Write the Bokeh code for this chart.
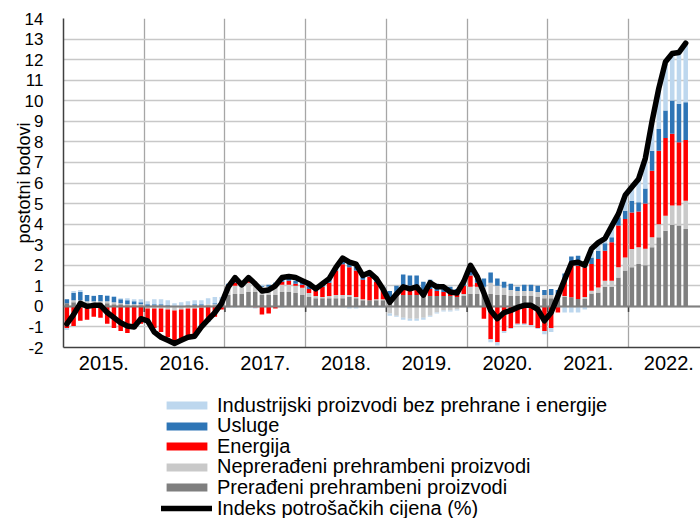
import numpy as np
from bokeh.plotting import figure
from bokeh.layouts import column
from bokeh.models import ColumnDataSource, Range1d, FixedTicker, Legend, LegendItem, Span
from bokeh.embed import file_html
from bokeh.resources import INLINE

# ---------------- data (monthly, Jan 2015 - Sep 2022) ----------------
years = ["2015.", "2016.", "2017.", "2018.", "2019.", "2020.", "2021.", "2022."]

processed = [0.15, 0.2, 0.2, 0.15, 0.15, 0.15, 0.15, 0.1, 0.1, 0.05, 0.05, 0.05,
             0.0, 0.05, 0.05, 0.0, 0.0, 0.0, 0.05, 0.05, 0.05, 0.05, 0.05, 0.1,
             0.55, 0.6, 0.6, 0.7, 0.7, 0.55, 0.55, 0.55, 0.7, 0.7, 0.65, 0.55,
             0.45, 0.4, 0.4, 0.4, 0.4, 0.4, 0.45, 0.4, 0.3, 0.3, 0.3, 0.3,
             0.45, 0.5, 0.55, 0.55, 0.55, 0.55, 0.5, 0.5, 0.5, 0.5, 0.45, 0.5,
             0.6, 0.6, 0.55, 0.6, 0.55, 0.55, 0.5, 0.5, 0.5, 0.5, 0.45, 0.4,
             0.4, 0.5, 0.45, 0.44, 0.36, 0.36, 0.63, 0.68, 0.96, 0.96, 1.41, 1.74,
             1.9, 2.06, 2.0, 2.87, 3.36, 3.68, 3.97, 3.93, 3.76]

unprocessed = [0.0, 0.1, 0.1, 0.1, 0.1, 0.1, 0.1, 0.1, 0.05, 0.05, 0.05, 0.05,
               -0.1, -0.1, -0.1, -0.15, -0.2, -0.15, -0.1, -0.1, -0.05, 0.05, 0.05, 0.05,
               0.35, 0.4, 0.35, 0.45, 0.35, 0.4, 0.4, 0.45, 0.35, 0.35, 0.35, 0.35,
               0.2, 0.1, 0.05, 0.1, 0.15, 0.15, 0.1, 0.05, 0.05, 0.0, 0.05, 0.05,
               -0.35, -0.45, -0.55, -0.6, -0.6, -0.55, -0.45, -0.3, -0.2, -0.2, -0.15, 0.1,
               0.35, 0.35, 0.4, 0.55, 0.45, 0.35, 0.3, 0.25, 0.25, 0.25, 0.25, 0.15,
               0.15, 0.1, 0.05, 0.0, 0.0, 0.1, 0.13, 0.24, 0.29, 0.29, 0.49, 0.64,
               0.89, 0.81, 0.8, 0.49, 0.64, 0.73, 0.93, 0.97, 1.38]

energy = [-1.05, -0.95, -0.7, -0.65, -0.5, -0.55, -0.85, -1.05, -1.2, -1.3, -1.1, -0.85,
          -0.7, -0.95, -1.15, -1.35, -1.45, -1.45, -1.4, -1.3, -0.85, -0.65, -0.5, -0.15,
          0.1, 0.15, 0.0, 0.1, -0.05, -0.4, -0.35, -0.1, 0.15, 0.2, 0.1, 0.15,
          0.2, 0.25, 0.5, 0.65, 1.2, 1.5, 1.35, 1.3, 0.95, 1.15, 0.85, 0.45,
          0.0, 0.15, 0.45, 0.45, 0.45, 0.25, 0.35, 0.25, 0.2, 0.15, 0.1, 0.4,
          0.55, 0.2, -0.6, -1.6, -1.75, -1.2, -1.05, -0.85, -0.85, -0.9, -1.05, -1.2,
          -1.05, -0.3, 0.8, 1.62, 1.62, 1.44, 1.3, 1.38, 1.46, 1.87, 2.03, 1.87,
          1.78, 1.75, 2.2, 3.24, 3.57, 3.78, 3.49, 3.08, 2.95]

services = [0.2, 0.35, 0.4, 0.3, 0.25, 0.3, 0.25, 0.25, 0.2, 0.2, 0.15, 0.1,
            0.1, 0.05, 0.05, 0.05, 0.0, 0.0, 0.0, 0.05, 0.05, -0.1, 0.05, 0.05,
            0.1, 0.15, 0.1, 0.1, 0.05, 0.05, 0.1, 0.15, 0.15, 0.1, 0.15, 0.2,
            0.2, 0.15, 0.15, 0.2, 0.15, 0.2, 0.2, 0.2, 0.2, 0.2, 0.15, 0.15,
            0.3, 0.35, 0.55, 0.5, 0.5, 0.4, 0.45, 0.35, 0.3, 0.3, 0.3, 0.3,
            0.3, 0.35, 0.4, 0.5, 0.35, 0.3, 0.3, 0.2, 0.3, 0.3, 0.3, 0.25,
            0.3, 0.2, 0.3, 0.36, 0.48, 0.24, 0.32, 0.4, 0.36, 0.24, 0.4, 0.4,
            0.57, 0.44, 0.73, 0.97, 1.06, 1.33, 1.62, 1.87, 1.84]

industrial = [-0.1, 0.1, 0.1, 0.0, 0.03, 0.0, 0.05, 0.05, 0.05, 0.1, 0.1, 0.15,
              0.15, 0.25, 0.25, 0.25, 0.15, 0.2, 0.2, 0.2, 0.2, 0.3, 0.3, 0.25,
              -0.05, -0.05, 0.0, -0.05, -0.05, 0.05, 0.0, 0.0, -0.05, 0.0, 0.05, 0.0,
              0.0, -0.05, 0.0, 0.0, 0.0, -0.05, -0.1, -0.1, -0.05, -0.05, -0.05, -0.05,
              -0.1, -0.05, -0.1, -0.1, -0.1, -0.1, -0.05, -0.05, -0.05, -0.05, -0.05, 0.0,
              0.15, 0.0, 0.0, -0.15, -0.15, -0.1, -0.05, -0.05, -0.05, -0.05, -0.05, -0.15,
              -0.2, 0.0, -0.3, -0.3, -0.3, -0.15, 0.35, 0.35, 0.25, 0.45, 0.25, 0.75,
              0.6, 1.1, 1.45, 1.3, 1.87, 2.4, 2.3, 2.5, 2.85]

cpi = [-0.85, -0.4, 0.15, 0.0, 0.05, 0.05, -0.3, -0.55, -0.8, -0.95, -1.0, -0.6,
       -0.7, -1.25, -1.5, -1.65, -1.8, -1.65, -1.5, -1.45, -1.0, -0.65, -0.3, 0.15,
       0.95, 1.4, 1.05, 1.4, 1.1, 0.75, 0.8, 1.0, 1.4, 1.45, 1.4, 1.25,
       1.1, 0.85, 1.1, 1.35, 1.9, 2.35, 2.15, 2.05, 1.5, 1.65, 1.35, 0.85,
       0.2, 0.6, 0.95, 0.85, 0.95, 0.55, 1.15, 0.95, 0.95, 0.7, 0.65, 1.2,
       2.0, 1.45, 0.65, -0.2, -0.6, -0.3, -0.2, -0.05, 0.05, 0.05, -0.15, -0.7,
       -0.3, 0.5, 1.3, 2.1, 2.15, 2.0, 2.8, 3.1, 3.3, 3.9, 4.5, 5.4,
       5.8, 6.2, 7.2, 9.0, 10.6, 11.9, 12.3, 12.35, 12.8]

series = [
    ("Prerađeni prehrambeni proizvodi", processed, "#7F7F7F"),
    ("Neprerađeni prehrambeni proizvodi", unprocessed, "#C9C9C9"),
    ("Energija", energy, "#FF0000"),
    ("Usluge", services, "#2E75B6"),
    ("Industrijski proizvodi bez prehrane i energije", industrial, "#BDD7EE"),
]
legend_order = ["Industrijski proizvodi bez prehrane i energije", "Usluge", "Energija",
                "Neprerađeni prehrambeni proizvodi", "Prerađeni prehrambeni proizvodi"]
cpi_name = "Indeks potrošačkih cijena (%)"
y_ticks = list(range(-2, 15))

FONT = "Liberation Sans"
colors = {nm: c for nm, _, c in series}

# ---------------- main chart ----------------
n = len(cpi)
x = np.arange(n) + 0.5

p = figure(width=700, height=380, output_backend="svg", toolbar_location=None,
           x_range=Range1d(0, 94.7), y_range=Range1d(-2, 14),
           min_border_left=63, min_border_right=0, min_border_top=18,
           min_border_bottom=33)
p.outline_line_color = None

# grids
p.xgrid.ticker = FixedTicker(ticks=[12 * k for k in range(1, len(years))])
p.xgrid.grid_line_color = "#A6A6A6"
p.xgrid.grid_line_width = 1.3
p.ygrid.grid_line_color = "#C8C8C8"
p.ygrid.grid_line_width = 1.5

# stacked bars (positive parts stack upwards, negative downwards)
pos = np.zeros(n)
neg = np.zeros(n)
for name, vals, color in series:
    v = np.array(vals, dtype=float)
    bottom = np.where(v >= 0, pos, neg + v)
    top = np.where(v >= 0, pos + v, neg)
    pos = np.where(v >= 0, pos + v, pos)
    neg = np.where(v < 0, neg + v, neg)
    src = ColumnDataSource(dict(x=x, bottom=bottom, top=top))
    p.vbar(x="x", bottom="bottom", top="top", width=0.67, source=src,
           fill_color=color, line_color=None)

# zero line and year tick marks on it
p.add_layout(Span(location=0, dimension="width", line_color="#808080", line_width=2))
bounds = [12 * k for k in range(1, len(years))]
p.segment(x0=bounds, y0=[0] * len(bounds), x1=bounds, y1=[-0.27] * len(bounds),
          line_color="#404040", line_width=1.5, level="annotation")

# CPI line
p.line(x, cpi, line_color="black", line_width=5.5, line_join="round",
       line_cap="round", level="overlay")

# axes
p.xaxis.ticker = FixedTicker(ticks=[12 * k + 6 for k in range(len(years))])
p.xaxis.major_label_overrides = {12 * k + 6: yr for k, yr in enumerate(years)}
p.xaxis.axis_line_color = "#404040"
p.xaxis.axis_line_width = 1.5
p.xaxis.major_tick_line_color = None
p.xaxis.major_tick_out = 0
p.xaxis.major_tick_in = 0
p.xaxis.minor_tick_line_color = None
p.xaxis.major_label_text_font = FONT
p.xaxis.major_label_text_font_size = "20px"
p.xaxis.major_label_text_color = "black"
p.xaxis.major_label_standoff = 8

p.yaxis.ticker = FixedTicker(ticks=y_ticks)
p.yaxis.major_label_overrides = {v: str(v) for v in y_ticks}
p.yaxis.axis_line_color = "#404040"
p.yaxis.axis_line_width = 1.5
p.yaxis.major_tick_line_color = None
p.yaxis.major_tick_out = 0
p.yaxis.major_tick_in = 0
p.yaxis.minor_tick_line_color = None
p.yaxis.major_label_text_font = FONT
p.yaxis.major_label_text_font_size = "17px"
p.yaxis.major_label_text_color = "black"
p.yaxis.major_label_standoff = 20
p.yaxis.axis_label = "postotni bodovi"
p.yaxis.axis_label_text_font = FONT
p.yaxis.axis_label_text_font_size = "18px"
p.yaxis.axis_label_text_font_style = "normal"
p.yaxis.axis_label_text_color = "black"
p.yaxis.axis_label_standoff = -12

# ---------------- legend panel ----------------
leg = figure(width=700, height=138, output_backend="svg", toolbar_location=None,
             x_range=Range1d(0, 1), y_range=Range1d(0, 1), min_border=0,
             x_axis_location=None, y_axis_location=None)
leg.grid.visible = False
leg.outline_line_color = None

nan = float("nan")
entries = []
for nm in legend_order:
    r = leg.vbar(x=[nan], top=[nan], width=1, fill_color=colors[nm], line_color=None)
    entries.append((nm, r))
lr = leg.line(x=[nan, nan], y=[nan, nan], line_color="black", line_width=5.5,
              line_cap="round")
entries.append((cpi_name, lr))

# one single-entry legend per row, so that row pitch matches the reference
row_pitch = 20.6
first_row_from_bottom = 101.5
for k, (nm, r) in enumerate(entries):
    lg = Legend(items=[LegendItem(label=nm, renderers=[r])],
                location=(98, first_row_from_bottom - k * row_pitch),
                orientation="vertical",
                glyph_width=51, glyph_height=10, label_standoff=5,
                label_text_font=FONT, label_text_font_size="20px",
                label_text_color="black", label_height=20, spacing=0,
                padding=0, margin=0, border_line_color=None,
                background_fill_alpha=0)
    leg.add_layout(lg, "center")

layout = column(p, leg, spacing=0)
open("out.html", "w").write(file_html(layout, INLINE))
